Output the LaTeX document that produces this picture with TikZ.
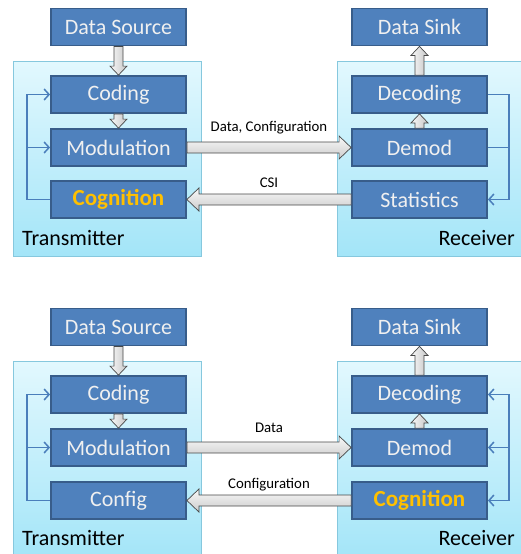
\documentclass[tikz,border=0pt]{standalone}
\usepackage{fontspec}
\setmainfont{Carlito}
\usetikzlibrary{arrows.meta,calc}

\definecolor{boxblue}{RGB}{79,129,189}
\definecolor{boxedge}{RGB}{56,93,138}
\definecolor{boxtext}{RGB}{240,240,240}
\definecolor{cogtext}{RGB}{255,192,0}
\definecolor{paneltop}{RGB}{226,248,254}
\definecolor{panelbot}{RGB}{163,229,248}
\definecolor{paneledge}{RGB}{134,200,222}
\definecolor{loopblue}{RGB}{74,126,187}
\definecolor{fatedge}{RGB}{72,72,72}

\begin{document}
\begin{tikzpicture}[
    x=1pt, y=-1pt,
    >={Straight Barb[length=5pt,width=11pt]},
    box/.style={rectangle, draw=boxedge, line width=1.8pt, fill=boxblue, text=boxtext, minimum width=135pt, minimum height=37pt, font=\fontsize{22}{26}\selectfont},
    cog/.style={box, text=cogtext, font=\fontsize{23}{26}\selectfont\bfseries},
    panel/.style={rectangle, draw=paneledge, line width=0.8pt, top color=paneltop, bottom color=panelbot},
    side/.style={font=\fontsize{22}{26}\selectfont, text=black, inner sep=0pt},
    tag/.style={font=\fontsize{14.8}{17}\selectfont, anchor=base, inner sep=0pt},
    fat/.style n args={3}{to path={
        ($(\tikztostart)!#1!90:(\tikztotarget)$)
        -- ($(\tikztotarget)!#3!(\tikztostart)!#1!90:(\tikztotarget)$)
        -- ($(\tikztotarget)!#3!(\tikztostart)!#2!90:(\tikztotarget)$)
        -- (\tikztotarget)
        -- ($(\tikztotarget)!#3!(\tikztostart)!#2!-90:(\tikztotarget)$)
        -- ($(\tikztotarget)!#3!(\tikztostart)!#1!-90:(\tikztotarget)$)
        -- ($(\tikztostart)!#1!-90:(\tikztotarget)$) -- cycle}},
    hfat/.style={fat={5.5pt}{11.5pt}{12pt}, draw=fatedge, line width=0.7pt, top color=gray!5, bottom color=gray!40},
    vfat/.style={fat={4.5pt}{8.5pt}{9pt}, draw=fatedge, line width=0.7pt, left color=gray!5, right color=gray!45},
    fback/.style={draw=loopblue, line width=1.5pt}
]
\useasboundingbox (0,0) rectangle (521,554);
\clip (0,0) rectangle (521,554);

% Transmitter (cognition at transmitter)
\node[panel, minimum width=188pt, minimum height=195pt] (txA) at (107,158.5) {};
\node[side, anchor=base west] (txAname) at (22,245) {Transmitter};
\node[box] (srcA) at (118.5,27) {Data Source};
\node[box] (codA) at (118.5,94.5) {Coding};
\node[box] (modA) at (118.5,147.5) {Modulation};
\node[cog] (cogA) at (118.5,199.5) {Cognition};

% Receiver (statistics)
\node[panel, minimum width=193pt, minimum height=195pt] (rxA) at (433.5,158.5) {};
\node[side, anchor=base east] (rxAname) at (515,245) {Receiver};
\node[box] (snkA) at (419.5,27) {Data Sink};
\node[box] (decA) at (419.5,94.5) {Decoding};
\node[box] (demA) at (419.5,147.5) {Demod};
\node[box] (staA) at (419.5,199.5) {Statistics};

% Arrows
\path[vfat] (srcA.south) to (codA.north);
\path[vfat] (codA.south) to (modA.north);
\path[vfat] (decA.north) to (snkA.south);
\path[vfat] (demA.north) to (decA.south);
\path[hfat] (modA.east) to (demA.west);
\path[hfat] (staA.west) to (cogA.east);
\path (modA.east) -- node[tag, yshift=16pt] (cfgA) {Data, Configuration} (demA.west);
\path (staA.west) -- node[tag, yshift=12.5pt] (csiA) {CSI} (cogA.east);
\draw[fback, ->] (cogA.west) -- ++(-23,0) |- (codA.west);
\draw[fback, ->] ([xshift=-23pt]modA.west) -- (modA.west);
\draw[fback, ->] (decA.east) -- ++(21,0) |- (staA.east);
\draw[fback] (demA.east) -- ++(21,0);

% Transmitter (config only)
\node[panel, minimum width=188pt, minimum height=199pt] (txB) at (107,460.5) {};
\node[side, anchor=base west] (txBname) at (22,545) {Transmitter};
\node[box] (srcB) at (118.5,327) {Data Source};
\node[box] (codB) at (118.5,394.5) {Coding};
\node[box] (modB) at (118.5,447.5) {Modulation};
\node[box] (cfgB) at (118.5,500.5) {Config};

% Receiver (cognition at receiver)
\node[panel, minimum width=193pt, minimum height=199pt] (rxB) at (433.5,460.5) {};
\node[side, anchor=base east] (rxBname) at (515,545) {Receiver};
\node[box] (snkB) at (419.5,327) {Data Sink};
\node[box] (decB) at (419.5,394.5) {Decoding};
\node[box] (demB) at (419.5,447.5) {Demod};
\node[cog] (cogB) at (419.5,500.5) {Cognition};

% Arrows
\path[vfat] (srcB.south) to (codB.north);
\path[vfat] (codB.south) to (modB.north);
\path[vfat] (decB.north) to (snkB.south);
\path[vfat] (demB.north) to (decB.south);
\path[hfat] (modB.east) to (demB.west);
\path[hfat] (cogB.west) to (cfgB.east);
\path (modB.east) -- node[tag, yshift=15.5pt] (datB) {Data} (demB.west);
\path (cogB.west) -- node[tag, yshift=12pt] (conB) {Configuration} (cfgB.east);
\draw[fback, ->] (cfgB.west) -- ++(-23,0) |- (codB.west);
\draw[fback, ->] ([xshift=-23pt]modB.west) -- (modB.west);
\draw[fback, <->] (decB.east) -- ++(21,0) |- (cogB.east);
\draw[fback, <-] (demB.east) -- ++(21,0);

\end{tikzpicture}
\end{document}
